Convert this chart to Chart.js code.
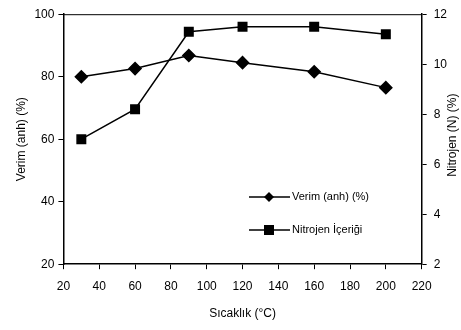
<!DOCTYPE html>
<html>
<head>
<meta charset="utf-8">
<script src="https://cdn.jsdelivr.net/npm/chart.js@4"></script>
<style>
  html, body { margin: 0; padding: 0; background: #fff; }
  #wrap { width: 461px; height: 330px; }
</style>
</head>
<body>
<div id="wrap"><canvas id="chart"></canvas></div>
<script>
const sicaklik = [30, 60, 90, 120, 160, 200];
const verim = [80, 82.6, 86.8, 84.5, 81.6, 76.5];
const nitrojen = [7.0, 8.2, 11.3, 11.5, 11.5, 11.2];
const rightTitle = 'Nitrojen (N) (%)';

const legendInside = {
    id: 'legendInside',
    afterDatasetsDraw(chart) {
        const ctx = chart.ctx;
        const area = chart.chartArea;
        ctx.save();
        // top border of the plot box
        ctx.strokeStyle = '#000';
        ctx.lineWidth = 1;
        ctx.beginPath();
        ctx.moveTo(area.left, area.top + 0.5);
        ctx.lineTo(area.right, area.top + 0.5);
        ctx.stroke();

        // right axis title, reading bottom to top like the left one
        ctx.fillStyle = '#000';
        ctx.font = '12px "Liberation Sans", Arial, sans-serif';
        ctx.textAlign = 'center';
        ctx.textBaseline = 'middle';
        ctx.translate(453, (area.top + area.bottom) / 2 - 4);
        ctx.rotate(-Math.PI / 2);
        ctx.fillText(rightTitle, 0, 0);
        ctx.setTransform(1, 0, 0, 1, 0, 0);

        const x0 = 249, rows = [197, 230];
        chart.data.datasets.forEach((ds, i) => {
            const y = rows[i];
            ctx.strokeStyle = '#000';
            ctx.lineWidth = 1.5;
            ctx.beginPath();
            ctx.moveTo(x0, y);
            ctx.lineTo(x0 + 41, y);
            ctx.stroke();
            ctx.fillStyle = '#000';
            ctx.beginPath();
            if (ds.pointStyle === 'rect') {
                ctx.rect(x0 + 15, y - 5, 10, 10);
            } else {
                ctx.moveTo(x0 + 20, y - 5);
                ctx.lineTo(x0 + 25, y);
                ctx.lineTo(x0 + 20, y + 5);
                ctx.lineTo(x0 + 15, y);
                ctx.closePath();
            }
            ctx.fill();
            ctx.font = '11px "Liberation Sans", Arial, sans-serif';
            ctx.textAlign = 'left';
            ctx.textBaseline = 'middle';
            ctx.fillText(ds.label, x0 + 43, y);
        });
        ctx.restore();
    }
};

const ctx = document.getElementById('chart').getContext('2d');
new Chart(ctx, {
    type: 'line',
    data: {
        labels: sicaklik,
        datasets: [{
            label: 'Verim (anh) (%)',
            data: sicaklik.map((x, i) => ({ x: x, y: verim[i] })),
            yAxisID: 'y',
            borderColor: '#000',
            backgroundColor: '#000',
            borderWidth: 1.5,
            pointStyle: 'rectRot',
            pointRadius: 6,
            fill: false
        }, {
            label: 'Nitrojen İçeriği',
            data: sicaklik.map((x, i) => ({ x: x, y: nitrojen[i] })),
            yAxisID: 'y1',
            borderColor: '#000',
            backgroundColor: '#000',
            borderWidth: 1.5,
            pointStyle: 'rect',
            pointRadius: 6,
            fill: false
        }]
    },
    options: {
        responsive: true,
        maintainAspectRatio: false,
        animation: false,
        layout: { padding: { top: 13, right: 7, left: 12, bottom: 5 } },
        plugins: {
            legend: { display: false },
            tooltip: { enabled: false }
        },
        scales: {
            x: {
                type: 'linear',
                min: 20,
                max: 220,
                ticks: { stepSize: 20, color: '#000', font: { family: 'Liberation Sans', size: 12 }, padding: 10 },
                grid: { drawOnChartArea: false, drawTicks: true, tickLength: 5, color: '#000' },
                border: { display: true, color: '#000', width: 1.5 },
                title: { display: true, text: 'Sıcaklık (°C)', color: '#000', font: { family: 'Liberation Sans', size: 12 }, padding: { top: 3 } }
            },
            y: {
                position: 'left',
                min: 20,
                max: 100,
                ticks: { stepSize: 20, color: '#000', font: { family: 'Liberation Sans', size: 12 }, padding: 4 },
                grid: { drawOnChartArea: false, drawTicks: true, tickLength: 5, color: '#000' },
                border: { display: true, color: '#000', width: 1.5 },
                title: { display: true, text: 'Verim (anh) (%)', color: '#000', font: { family: 'Liberation Sans', size: 12 }, padding: 2 }
            },
            y1: {
                position: 'right',
                min: 2,
                max: 12,
                ticks: { stepSize: 2, color: '#000', font: { family: 'Liberation Sans', size: 12 }, padding: 7 },
                grid: { drawOnChartArea: false, drawTicks: true, tickLength: 5, color: '#000' },
                border: { display: true, color: '#000', width: 1.5 },
                title: { display: false }
            }
        }
    },
    plugins: [legendInside]
});
</script>
</body>
</html>
